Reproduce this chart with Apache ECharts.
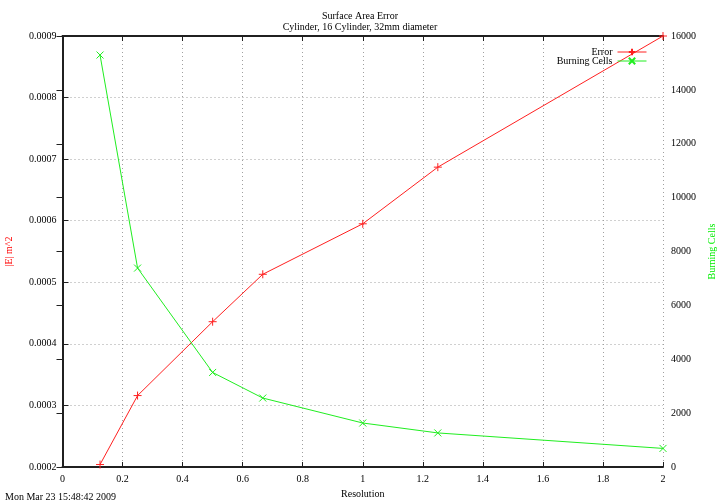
<!DOCTYPE html>
<html>
<head>
<meta charset="utf-8">
<script src="https://cdn.jsdelivr.net/npm/echarts@6/dist/echarts.min.js"></script>
<style>html,body{margin:0;padding:0;background:#fff}#c{width:720px;height:504px}</style>
</head>
<body>
<div id="c"></div>
<script>
var resolution = [0.125, 0.25, 0.5, 0.667, 1.0, 1.25, 2.0];
var errorValues = [0.000204, 0.000316, 0.000436, 0.000513, 0.000595, 0.000687, 0.0009];
var burningCells = [15294, 7385, 3510, 2560, 1633, 1265, 690];
var titleText = 'Surface Area Error';
var subtitleText = 'Cylinder, 16 Cylinder, 32mm diameter';
var timestampText = 'Mon Mar 23 15:48:42 2009';

var FONT = 'Liberation Serif';
var plusPath = 'path://M0,-1L0,1M-1,0L1,0';
var crossPath = 'path://M-1,-1L1,1M-1,1L1,-1';
function pairs(xs, ys) { return xs.map(function (x, i) { return [x, ys[i]]; }); }

var chart = echarts.init(document.getElementById('c'), null, { renderer: 'canvas' });
var gridLine = { show: true, lineStyle: { color: '#a0a0a0', width: 1, type: [1, 3] } };
var axisLine = { show: true, lineStyle: { color: '#202020', width: 2 } };
var tick = { show: true, inside: true, length: 5, lineStyle: { color: '#202020', width: 1 } };
var lbl = { fontFamily: FONT, fontSize: 10, color: '#000' };

chart.setOption({
  animation: false,
  backgroundColor: '#fff',
  title: [
    { text: titleText, subtext: subtitleText, left: 'center', top: 6, itemGap: 1,
      textStyle: { fontFamily: FONT, fontSize: 10, fontWeight: 'normal', color: '#000' },
      subtextStyle: { fontFamily: FONT, fontSize: 10, color: '#000' } },
    { text: timestampText, left: 0, top: 487,
      textStyle: { fontFamily: FONT, fontSize: 10, fontWeight: 'normal', color: '#000' } }
  ],
  legend: [
    { data: ['Error'], right: 68, top: 42, itemWidth: 29, itemHeight: 8, orient: 'vertical',
      align: 'right', textStyle: lbl, selectedMode: false, lineStyle: { width: 1 } },
    { data: ['Burning Cells'], right: 68, top: 51, itemWidth: 29, itemHeight: 8, orient: 'vertical',
      align: 'right', textStyle: lbl, selectedMode: false, lineStyle: { width: 1 } }
  ],
  grid: { left: 62.5, right: 57, top: 36, bottom: 37, containLabel: false, outerBoundsMode: 'none' },
  xAxis: [
    { type: 'value', position: 'bottom', min: 0, max: 2, interval: 0.2,
      name: 'Resolution', nameLocation: 'middle', nameGap: 18,
      nameTextStyle: lbl,
      axisLine: axisLine, axisTick: tick, splitLine: gridLine,
      axisLabel: Object.assign({ margin: 7, formatter: function (v) { return String(Math.round(v * 10) / 10); } }, lbl) },
    { type: 'value', position: 'top', min: 0, max: 2, interval: 0.2,
      axisLine: axisLine, axisTick: tick, splitLine: { show: false }, axisLabel: { show: false } }
  ],
  yAxis: [
    { type: 'value', position: 'left', min: 0.0002, max: 0.0009, interval: 0.0001,
      name: '|E| m^2', nameLocation: 'middle', nameGap: 48, nameRotate: 90,
      nameTextStyle: { fontFamily: FONT, fontSize: 10, color: '#ff0000' },
      axisLine: axisLine, axisTick: Object.assign({}, tick, { length: 6 }), splitLine: gridLine,
      axisLabel: Object.assign({ margin: 6, formatter: function (v) { return v.toFixed(4); } }, lbl) },
    { type: 'value', position: 'right', min: 0, max: 16000, interval: 2000,
      name: 'Burning Cells', nameLocation: 'middle', nameGap: 44, nameRotate: 90,
      nameTextStyle: { fontFamily: FONT, fontSize: 10, color: '#00ee00' },
      axisLine: axisLine, axisTick: Object.assign({}, tick, { length: 6 }), splitLine: { show: false },
      axisLabel: Object.assign({ margin: 8, formatter: function (v) { return String(Math.round(v)); } }, lbl) }
  ],
  series: [
    { name: 'Error', type: 'line', xAxisIndex: 0, yAxisIndex: 0,
      data: pairs(resolution, errorValues),
      symbol: plusPath, symbolSize: 8, showAllSymbol: true,
      lineStyle: { color: '#ff2020', width: 1 },
      itemStyle: { color: 'rgba(0,0,0,0)', borderColor: '#ff2020', borderWidth: 1 } },
    { name: 'Burning Cells', type: 'line', xAxisIndex: 0, yAxisIndex: 1,
      data: pairs(resolution, burningCells),
      symbol: crossPath, symbolSize: 7, showAllSymbol: true,
      lineStyle: { color: '#20ee20', width: 1 },
      itemStyle: { color: 'rgba(0,0,0,0)', borderColor: '#20ee20', borderWidth: 1 } }
  ]
});
</script>
</body>
</html>
